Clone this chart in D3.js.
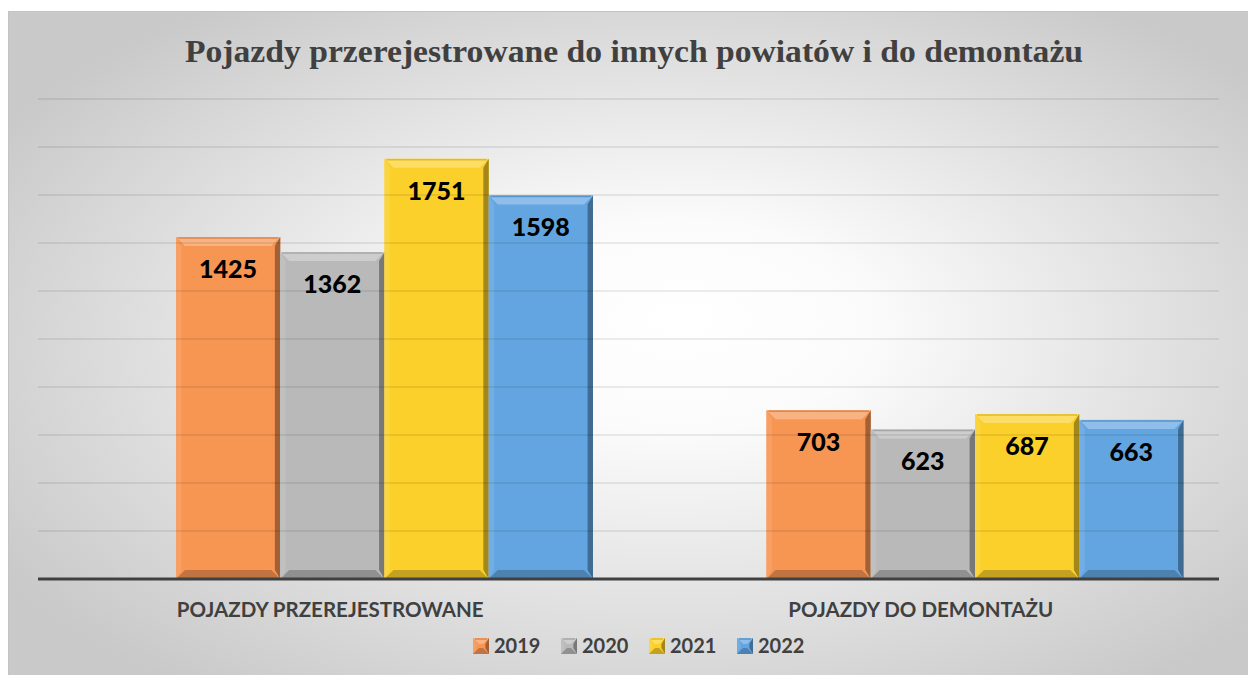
<!DOCTYPE html>
<html style="overflow:hidden;">
<head>
	<meta charset="utf-8">
	<script src="https://cdnjs.cloudflare.com/ajax/libs/d3/7.8.5/d3.min.js" charset="utf-8"></script>
	<style>
		body { margin:0; background:#fff; }
	</style>
</head>
<body>
<div id="chart"></div>
<script>
// data
var categories = ["POJAZDY PRZEREJESTROWANE", "POJAZDY DO DEMONTAŻU"];
var years = ["2019", "2020", "2021", "2022"];
var values2019 = [1425, 703];
var values2020 = [1362, 623];
var values2021 = [1751, 687];
var values2022 = [1598, 663];
var seriesValues = [values2019, values2020, values2021, values2022];
var yTicks = [200, 400, 600, 800, 1000, 1200, 1400, 1600, 1800, 2000];
var colors = ["#f79553", "#b9b9b9", "#fbd02a", "#62a5e1"];

var width = 1248, height = 675;
var plot = {left: 38, right: 1219, top: 99, bottom: 579};

var svg = d3.select("#chart").append("svg")
    .attr("width", width)
    .attr("height", height);

// background gradient like the excel chart area
var defs = svg.append("defs");
var grad = defs.append("radialGradient")
    .attr("id", "bg")
    .attr("cx", "0.52").attr("cy", "0.5").attr("r", "0.62")
    .attr("fx", "0.54").attr("fy", "0.45");
grad.append("stop").attr("offset", "0").attr("stop-color", "#ffffff");
grad.append("stop").attr("offset", "0.25").attr("stop-color", "#fbfbfb");
grad.append("stop").attr("offset", "1").attr("stop-color", "#c9c9c9");

svg.append("rect")
    .attr("x", 8.5).attr("y", 11.5)
    .attr("width", 1250).attr("height", 680)
    .attr("fill", "url(#bg)")
    .attr("stroke", "#c4c4c4")
    .attr("stroke-width", 1);

// scales
var y = d3.scaleLinear()
    .domain([0, 2000])
    .range([plot.bottom, plot.top]);

var x0 = d3.scaleBand()
    .domain(categories)
    .range([plot.left, plot.right]);

var groupOffset = 138;
var x1 = d3.scaleBand()
    .domain(years)
    .range([0, 417]);

// title
svg.append("text")
    .attr("x", 634)
    .attr("y", 62)
    .attr("text-anchor", "middle")
    .attr("textLength", 898)
    .attr("lengthAdjust", "spacingAndGlyphs")
    .style("font-family", "'Liberation Serif', serif")
    .style("font-weight", "bold")
    .style("font-size", "32px")
    .style("fill", "#404040")
    .text("Pojazdy przerejestrowane do innych powiatów i do demontażu");

// bevelled box
function shade(c, k) {
  var col = d3.color(c);
  return k > 0 ? d3.interpolateRgb(col, "#ffffff")(k) : d3.interpolateRgb(col, "#000000")(-k);
}
function bevelBox(g, bx, by, bw, bh, c, b) {
  g.append("rect").attr("x", bx).attr("y", by).attr("width", bw).attr("height", bh).attr("fill", c);
  var pts = function (a) { return a.map(function (p) { return p.join(","); }).join(" "); };
  // top
  g.append("polygon").attr("points", pts([[bx, by], [bx + bw, by], [bx + bw - b, by + b], [bx + b, by + b]]))
    .attr("fill", shade(c, 0.28));
  g.append("line").attr("x1", bx + 2).attr("x2", bx + bw - 2).attr("y1", by + 1).attr("y2", by + 1)
    .attr("stroke", shade(c, -0.1)).attr("stroke-width", 1.5);
  // left
  g.append("polygon").attr("points", pts([[bx, by], [bx + b * 0.6, by + b], [bx + b * 0.6, by + bh - b], [bx, by + bh]]))
    .attr("fill", shade(c, 0.1));
  // right
  g.append("polygon").attr("points", pts([[bx + bw, by], [bx + bw, by + bh], [bx + bw - b * 0.6, by + bh - b], [bx + bw - b * 0.6, by + b]]))
    .attr("fill", shade(c, -0.35));
  // bottom
  g.append("polygon").attr("points", pts([[bx, by + bh], [bx + bw, by + bh], [bx + bw - b, by + bh - b], [bx + b, by + bh - b]]))
    .attr("fill", shade(c, -0.22));
}

// bars
var bars = svg.append("g");
categories.forEach(function (cat, ci) {
  years.forEach(function (yr, si) {
    var v = seriesValues[si][ci];
    var bx = x0(cat) + groupOffset + x1(yr);
    bevelBox(bars, bx, y(v), x1.bandwidth(), y(0) - y(v), colors[si], 9);
  });
});

// gridlines (drawn over the bars, faint)
svg.append("g").selectAll("line")
  .data(yTicks)
  .enter().append("line")
    .attr("x1", plot.left).attr("x2", plot.right)
    .attr("y1", function (d) { return y(d); })
    .attr("y2", function (d) { return y(d); })
    .attr("stroke", "#000")
    .attr("stroke-opacity", 0.1)
    .attr("stroke-width", 1.5);

// value labels
categories.forEach(function (cat, ci) {
  years.forEach(function (yr, si) {
    var v = seriesValues[si][ci];
    svg.append("text")
      .attr("x", x0(cat) + groupOffset + x1(yr) + x1.bandwidth() / 2)
      .attr("y", y(v) + 41)
      .attr("text-anchor", "middle")
      .style("font-family", "Lato, sans-serif")
      .style("font-weight", "900")
      .style("font-size", "25px")
      .style("fill", "#000")
      .text(v);
  });
});

// x axis line
svg.append("line")
    .attr("x1", plot.left).attr("x2", plot.right)
    .attr("y1", y(0)).attr("y2", y(0))
    .attr("stroke", "#404040")
    .attr("stroke-width", 3);

// category labels
svg.append("g").selectAll("text")
  .data(categories)
  .enter().append("text")
    .attr("x", function (d) { return x0(d) + x0.bandwidth() / 2 - 3; })
    .attr("y", 617)
    .attr("text-anchor", "middle")
    .style("font-family", "Lato, sans-serif")
    .style("font-weight", "bold")
    .style("font-size", "20.5px")
    .style("fill", "#404040")
    .text(function (d) { return d; });

// legend
var legend = svg.append("g");
years.forEach(function (yr, i) {
  var lx = 473 + i * 88;
  bevelBox(legend, lx, 638, 16, 16, colors[i], 6);
  legend.append("text")
    .attr("x", lx + 21)
    .attr("y", 653)
    .style("font-family", "Lato, sans-serif")
    .style("font-weight", "bold")
    .style("font-size", "20px")
    .style("fill", "#404040")
    .text(yr);
});
</script>
</body>
</html>
